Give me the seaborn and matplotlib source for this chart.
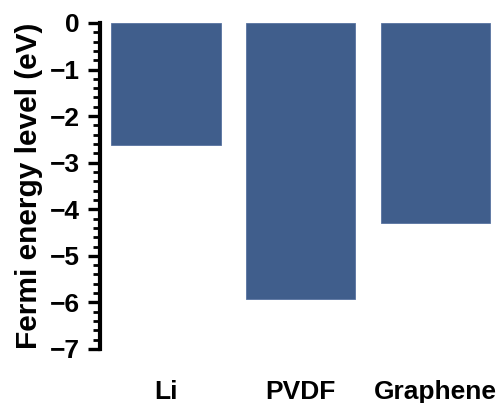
import matplotlib
matplotlib.use("Agg")
import matplotlib.pyplot as plt
from matplotlib.ticker import MultipleLocator
import seaborn as sns
import pandas as pd

materials = ["Li", "PVDF", "Graphene"]
fermi_levels = [-2.62, -5.92, -4.29]
y_ticks = [0, -1, -2, -3, -4, -5, -6, -7]

sns.set_theme(style="ticks")
plt.rcParams["font.family"] = ["Liberation Sans", "DejaVu Sans"]
plt.rcParams["font.weight"] = "bold"
plt.rcParams["text.color"] = "black"
plt.rcParams["axes.labelcolor"] = "black"
plt.rcParams["xtick.color"] = "black"
plt.rcParams["ytick.color"] = "black"

df = pd.DataFrame({"material": materials, "level": fermi_levels})

fig = plt.figure(figsize=(4.99, 4.03), dpi=100)
ax = fig.add_axes([0.2004, 0.134, 0.7996, 0.809])

sns.barplot(data=df, x="material", y="level", color="#405e8c", saturation=1,
            width=0.81, edgecolor="#5873a0", linewidth=0.6, ax=ax)

ax.set_ylim(-7, 0)
ax.set_xlim(-0.49, 2.47)
ax.set_yticks(y_ticks)
ax.set_yticklabels([str(t).replace("-", "\u2212") for t in y_ticks])
ax.yaxis.set_minor_locator(MultipleLocator(0.2))

for side in ["top", "right", "bottom"]:
    ax.spines[side].set_visible(False)
ax.spines["left"].set_linewidth(3.0)
ax.spines["left"].set_color("black")

ax.tick_params(axis="y", which="major", length=8.5, width=2.4, color="black",
               labelcolor="black", labelsize=19, pad=6, direction="out")
ax.tick_params(axis="y", which="minor", length=5, width=2.0, color="black",
               direction="out")
ax.tick_params(axis="x", length=0, labelsize=19, labelcolor="black", pad=22)
for lab in ax.get_xticklabels() + ax.get_yticklabels():
    lab.set_fontweight("bold")

ax.set_xlabel("")
ax.set_ylabel("Fermi energy level (eV)", fontsize=21.5, fontweight="bold",
              color="black", labelpad=5)

fig.savefig("out.png", dpi=100)
